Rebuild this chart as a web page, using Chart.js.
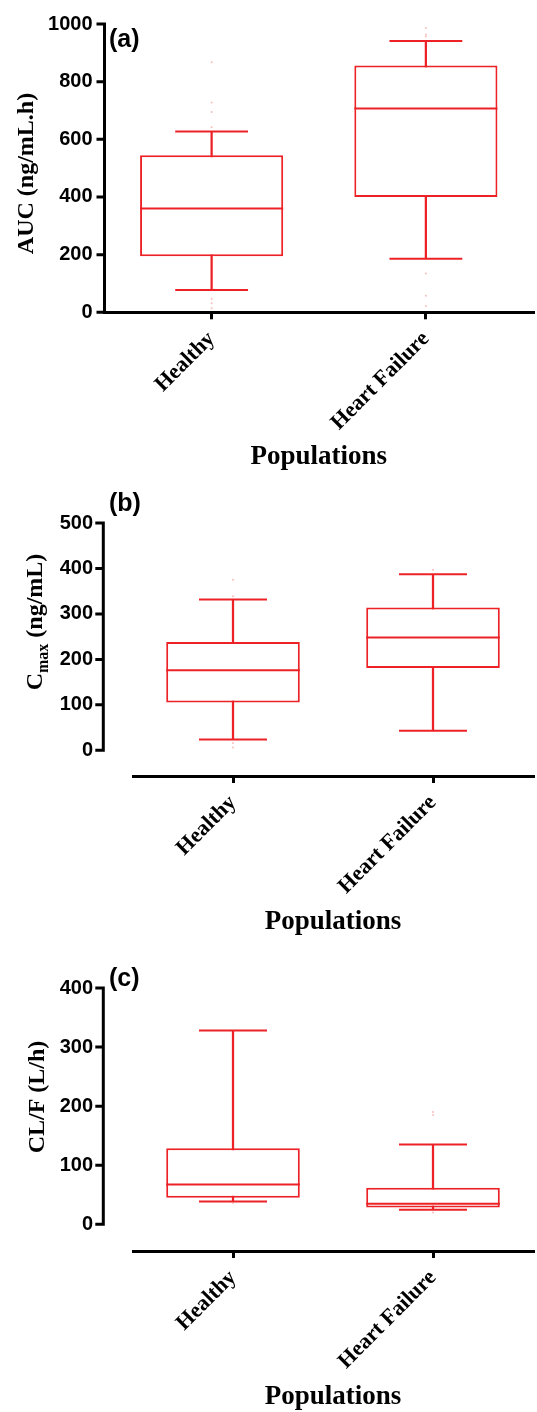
<!DOCTYPE html>
<html>
<head>
<meta charset="utf-8">
<script src="https://cdn.jsdelivr.net/npm/chart.js@4.4.1/dist/chart.umd.min.js"></script>
<style>
  html, body { margin: 0; padding: 0; background: #fff; overflow: hidden; }
  .panel { position: absolute; left: 0; width: 537px; }
</style>
</head>
<body>
<div class="panel" style="top:0"><canvas id="chart-a" width="537" height="471"></canvas></div>
<div class="panel" style="top:471px"><canvas id="chart-b" width="537" height="465"></canvas></div>
<div class="panel" style="top:936px"><canvas id="chart-c" width="537" height="475"></canvas></div>
<script>
const groups = ["Healthy", "Heart Failure"];

// (a) AUC (ng/mL.h)
const aucTicks = [0, 200, 400, 600, 800, 1000];
const aucMin = [77, 186];
const aucQ1 = [194, 400];
const aucMed = [360, 707];
const aucQ3 = [545, 856];
const aucMax = [627, 941];
const aucOutHealthy = [867, 728, 695, 642, 47, 31, 14];
const aucOutHF = [986, 964, 957, 135, 57, 22];

// (b) Cmax (ng/mL)
const cmaxTicks = [0, 100, 200, 300, 400, 500];
const cmaxMin = [24, 43];
const cmaxQ1 = [105, 181];
const cmaxMed = [176, 248];
const cmaxQ3 = [238, 314];
const cmaxMax = [332, 387];
const cmaxOutHealthy = [375, 339, 16, 6];
const cmaxOutHF = [397];

// (c) CL/F (L/h)
const clTicks = [0, 100, 200, 300, 400];
const clMin = [38.6, 24.7];
const clQ1 = [44.8, 28.4];
const clMed = [67.5, 34.6];
const clQ3 = [128.8, 61.8];
const clMax = [328, 135];
const clOutHealthy = [36];
const clOutHF = [190, 185, 20];

const RED = "#ec2227";
const SANS = '"Liberation Sans", Arial, sans-serif';
const SERIF = '"Liberation Serif", "Times New Roman", serif';
const BOX_FRAC = 0.668;
const CAP_FRAC = 0.34;

const catWidth = (chart) => {
  const x = chart.scales.x;
  return (x.right - x.left) / groups.length;
};

const makeDecor = (p) => ({
  id: "decor",
  afterDraw(chart) {
    const { ctx } = chart;
    const y = chart.scales.y;
    ctx.save();

    // y axis line and tick marks
    ctx.strokeStyle = "#000";
    ctx.lineWidth = 3;
    ctx.beginPath();
    ctx.moveTo(p.axisX, y.getPixelForValue(0) + 1.5);
    ctx.lineTo(p.axisX, y.getPixelForValue(y.max) - 1.5);
    y.ticks.forEach((t) => {
      const py = y.getPixelForValue(t.value);
      ctx.moveTo(p.axisX - 8, py);
      ctx.lineTo(p.axisX + 1.5, py);
    });
    ctx.stroke();

    // panel letter
    ctx.fillStyle = "#000";
    ctx.font = `bold 25px ${SANS}`;
    ctx.textBaseline = "alphabetic";
    ctx.textAlign = "left";
    ctx.fillText(p.letter, 109, p.letterY);

    // y title (with optional subscript)
    ctx.translate(p.titleX, p.titleY);
    ctx.rotate(-Math.PI / 2);
    ctx.textBaseline = "middle";
    const fontFor = (part) => `bold ${part.sub ? 16 : 24}px ${SERIF}`;
    let total = 0;
    p.title.forEach((part) => {
      ctx.font = fontFor(part);
      total += ctx.measureText(part.t).width;
    });
    let tx = -total / 2;
    p.title.forEach((part) => {
      ctx.font = fontFor(part);
      ctx.fillText(part.t, tx, part.sub ? 8 : 0);
      tx += ctx.measureText(part.t).width;
    });
    ctx.restore();
  },
});

const makePanel = (id, p) => {
  const outPoints = [];
  p.outliers.forEach((vals, i) =>
    vals.forEach((v) => outPoints.push({ x: groups[i], y: v }))
  );

  const capStyle = {
    type: "line",
    showLine: false,
    pointStyle: "line",
    pointRadius: (c) => (catWidth(c.chart) * CAP_FRAC) / 2,
    pointBorderColor: RED,
    pointBorderWidth: 2,
    order: 1,
  };

  return new Chart(document.getElementById(id), {
    type: "bar",
    data: {
      labels: groups,
      datasets: [
        {
          type: "line",
          data: outPoints,
          showLine: false,
          pointRadius: 1,
          pointBorderWidth: 0,
          pointBackgroundColor: "rgba(240,110,110,0.45)",
          order: 0,
        },
        { ...capStyle, data: p.max },
        { ...capStyle, data: p.min },
        {
          ...capStyle,
          data: p.med,
          pointRadius: (c) => (catWidth(c.chart) * BOX_FRAC) / 2,
        },
        {
          data: p.q1.map((v, i) => [v, p.q3[i]]),
          backgroundColor: "#fff",
          borderColor: RED,
          borderWidth: 2,
          borderSkipped: false,
          grouped: false,
          barPercentage: 1,
          categoryPercentage: BOX_FRAC,
          order: 2,
        },
        {
          data: p.min.map((v, i) => [v, p.max[i]]),
          backgroundColor: RED,
          borderWidth: 0,
          barThickness: 1.6,
          grouped: false,
          order: 3,
        },
      ],
    },
    options: {
      responsive: false,
      animation: false,
      events: [],
      layout: { padding: { top: p.top, left: 0, right: 0, bottom: 0 } },
      plugins: { legend: { display: false }, tooltip: { enabled: false } },
      scales: {
        x: {
          type: "category",
          offset: true,
          border: { display: true, color: "#000", width: 3 },
          grid: {
            display: true,
            drawOnChartArea: false,
            offset: false,
            color: "#000",
            lineWidth: 3,
            tickLength: 7,
          },
          ticks: {
            color: "#000",
            font: { family: SERIF, size: 22, weight: "bold" },
            minRotation: 45,
            maxRotation: 45,
            padding: 7,
          },
          title: {
            display: true,
            text: "Populations",
            color: "#000",
            font: { family: SERIF, size: 27, weight: "bold", lineHeight: 1 },
            padding: 0,
          },
          afterFit: (s) => {
            s.height = p.xHeight;
          },
        },
        y: {
          min: p.yMin,
          max: p.yMax,
          border: { display: false },
          grid: { display: false, drawTicks: false },
          ticks: {
            color: "#000",
            font: { family: SANS, size: 20, weight: "bold" },
            padding: p.labelPad,
            callback: (v) => String(v),
          },
          afterBuildTicks: (s) => {
            s.ticks = p.ticks.map((v) => ({ value: v }));
          },
          afterFit: (s) => {
            s.width = p.left;
          },
        },
      },
    },
    plugins: [makeDecor(p)],
  });
};

makePanel("chart-a", {
  ticks: aucTicks, min: aucMin, q1: aucQ1, med: aucMed, q3: aucQ3, max: aucMax,
  outliers: [aucOutHealthy, aucOutHF],
  yMin: 0, yMax: 1000, top: 24, xHeight: 158.7, left: 104.5, axisX: 104.5, labelPad: 12,
  letter: "(a)", letterY: 47,
  title: [{ t: "AUC (ng/mL.h)" }], titleX: 26.5, titleY: 173.5,
});

makePanel("chart-b", {
  ticks: cmaxTicks, min: cmaxMin, q1: cmaxQ1, med: cmaxMed, q3: cmaxQ3, max: cmaxMax,
  outliers: [cmaxOutHealthy, cmaxOutHF],
  yMin: -56.5, yMax: 500, top: 16.3, xHeight: 160, left: 133, axisX: 103.3, labelPad: 40,
  letter: "(b)", letterY: 40,
  title: [{ t: "C" }, { t: "max", sub: true }, { t: " (ng/mL)" }], titleX: 36, titleY: 151,
});

makePanel("chart-c", {
  ticks: clTicks, min: clMin, q1: clQ1, med: clMed, q3: clQ3, max: clMax,
  outliers: [clOutHealthy, clOutHF],
  yMin: -45.2, yMax: 400, top: 26.7, xHeight: 160, left: 133, axisX: 103.3, labelPad: 40,
  letter: "(c)", letterY: 50,
  title: [{ t: "CL/F (L/h)" }], titleX: 38, titleY: 161,
});
</script>
</body>
</html>
